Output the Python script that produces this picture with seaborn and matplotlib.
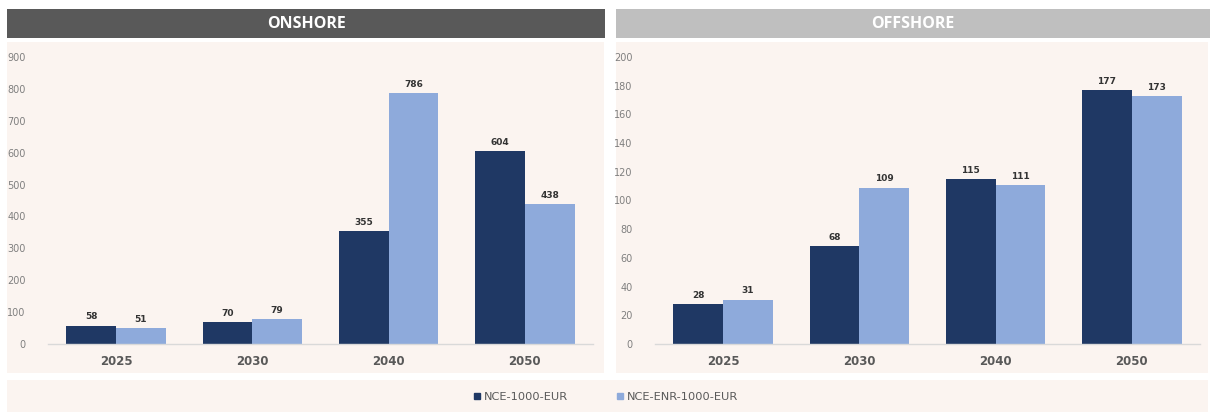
import matplotlib
matplotlib.use("Agg")
import matplotlib.pyplot as plt
from matplotlib.patches import Rectangle
from matplotlib.lines import Line2D
import seaborn as sns
import pandas as pd

years = ["2025", "2030", "2040", "2050"]
series_names = ["NCE-1000-EUR", "NCE-ENR-1000-EUR"]
onshore_nce = [58, 70, 355, 604]
onshore_enr = [51, 79, 786, 438]
offshore_nce = [28, 68, 115, 177]
offshore_enr = [31, 109, 111, 173]

colors = ["#1F3864", "#8EAADB"]
panel_bg = "#FBF4F0"
W, H = 1210, 412

sns.set_theme(style="white")
plt.rcParams["font.family"] = ["DejaVu Sans"]

fig = plt.figure(figsize=(W / 100, H / 100), dpi=100)
fig.patch.set_facecolor("white")


def px_rect(x0, y0, x1, y1, color):
    fig.patches.append(Rectangle((x0 / W, 1 - y1 / H), (x1 - x0) / W, (y1 - y0) / H,
                                 transform=fig.transFigure, facecolor=color,
                                 edgecolor="none", zorder=-5))


# panel backgrounds and header bars
px_rect(7, 42, 604, 373, panel_bg)
px_rect(616, 42, 1208, 373, panel_bg)
px_rect(7, 380, 1208, 412, panel_bg)
px_rect(7, 9, 605, 38, "#595959")
px_rect(616, 9, 1210, 38, "#BFBFBF")
fig.text((7 + 605) / 2 / W, 1 - 23.5 / H, "ONSHORE", color="white", fontsize=11.5,
         fontweight="bold", ha="center", va="center", family="Open Sans")
fig.text((616 + 1210) / 2 / W, 1 - 23.5 / H, "OFFSHORE", color="white", fontsize=11.5,
         fontweight="bold", ha="center", va="center", family="Open Sans")


def make_df(a, b):
    return pd.DataFrame({
        "year": years * 2,
        "value": a + b,
        "series": [series_names[0]] * len(years) + [series_names[1]] * len(years),
    })


panels = [
    (make_df(onshore_nce, onshore_enr), (48, 593), 900, 100),
    (make_df(offshore_nce, offshore_enr), (655, 1200), 200, 20),
]

for df, (x0, x1), ymax, step in panels:
    ax = fig.add_axes([x0 / W, 1 - 344 / H, (x1 - x0) / W, (344 - 57) / H])
    ax.set_facecolor("none")
    sns.barplot(data=df, x="year", y="value", hue="series", palette=colors,
                width=0.73, gap=0, saturation=1, legend=False, linewidth=0,
                edgecolor="none", ax=ax)
    for cont in ax.containers:
        ax.bar_label(cont, fmt="%d", padding=3, fontsize=6.5, fontweight="bold",
                     color="#333333")
    ax.set_xlim(-0.5, 3.5)
    ax.set_ylim(0, ymax)
    ax.set_yticks(range(0, ymax + 1, step))
    ax.set_xlabel("")
    ax.set_ylabel("")
    for s in ["top", "right", "left"]:
        ax.spines[s].set_visible(False)
    ax.spines["bottom"].set_color("#D9D9D9")
    ax.spines["bottom"].set_linewidth(1)
    ax.tick_params(axis="y", length=0, labelsize=7, labelcolor="#7F7F7F", pad=16)
    ax.tick_params(axis="x", length=0, labelsize=8.5, labelcolor="#595959", pad=8)
    for lab in ax.get_xticklabels():
        lab.set_fontweight("bold")
    ax.grid(False)

handles = [Line2D([], [], marker="s", linestyle="none", markersize=5,
                  markerfacecolor=c, markeredgecolor=c) for c in colors]
fig.legend(handles, series_names, loc="center", bbox_to_anchor=(0.5, 1 - 397 / H),
           ncol=2, frameon=False, fontsize=8.2, labelcolor="#595959",
           handletextpad=0.2, columnspacing=4.2, handlelength=0.8)

fig.savefig("out.png", dpi=100, facecolor="white")
